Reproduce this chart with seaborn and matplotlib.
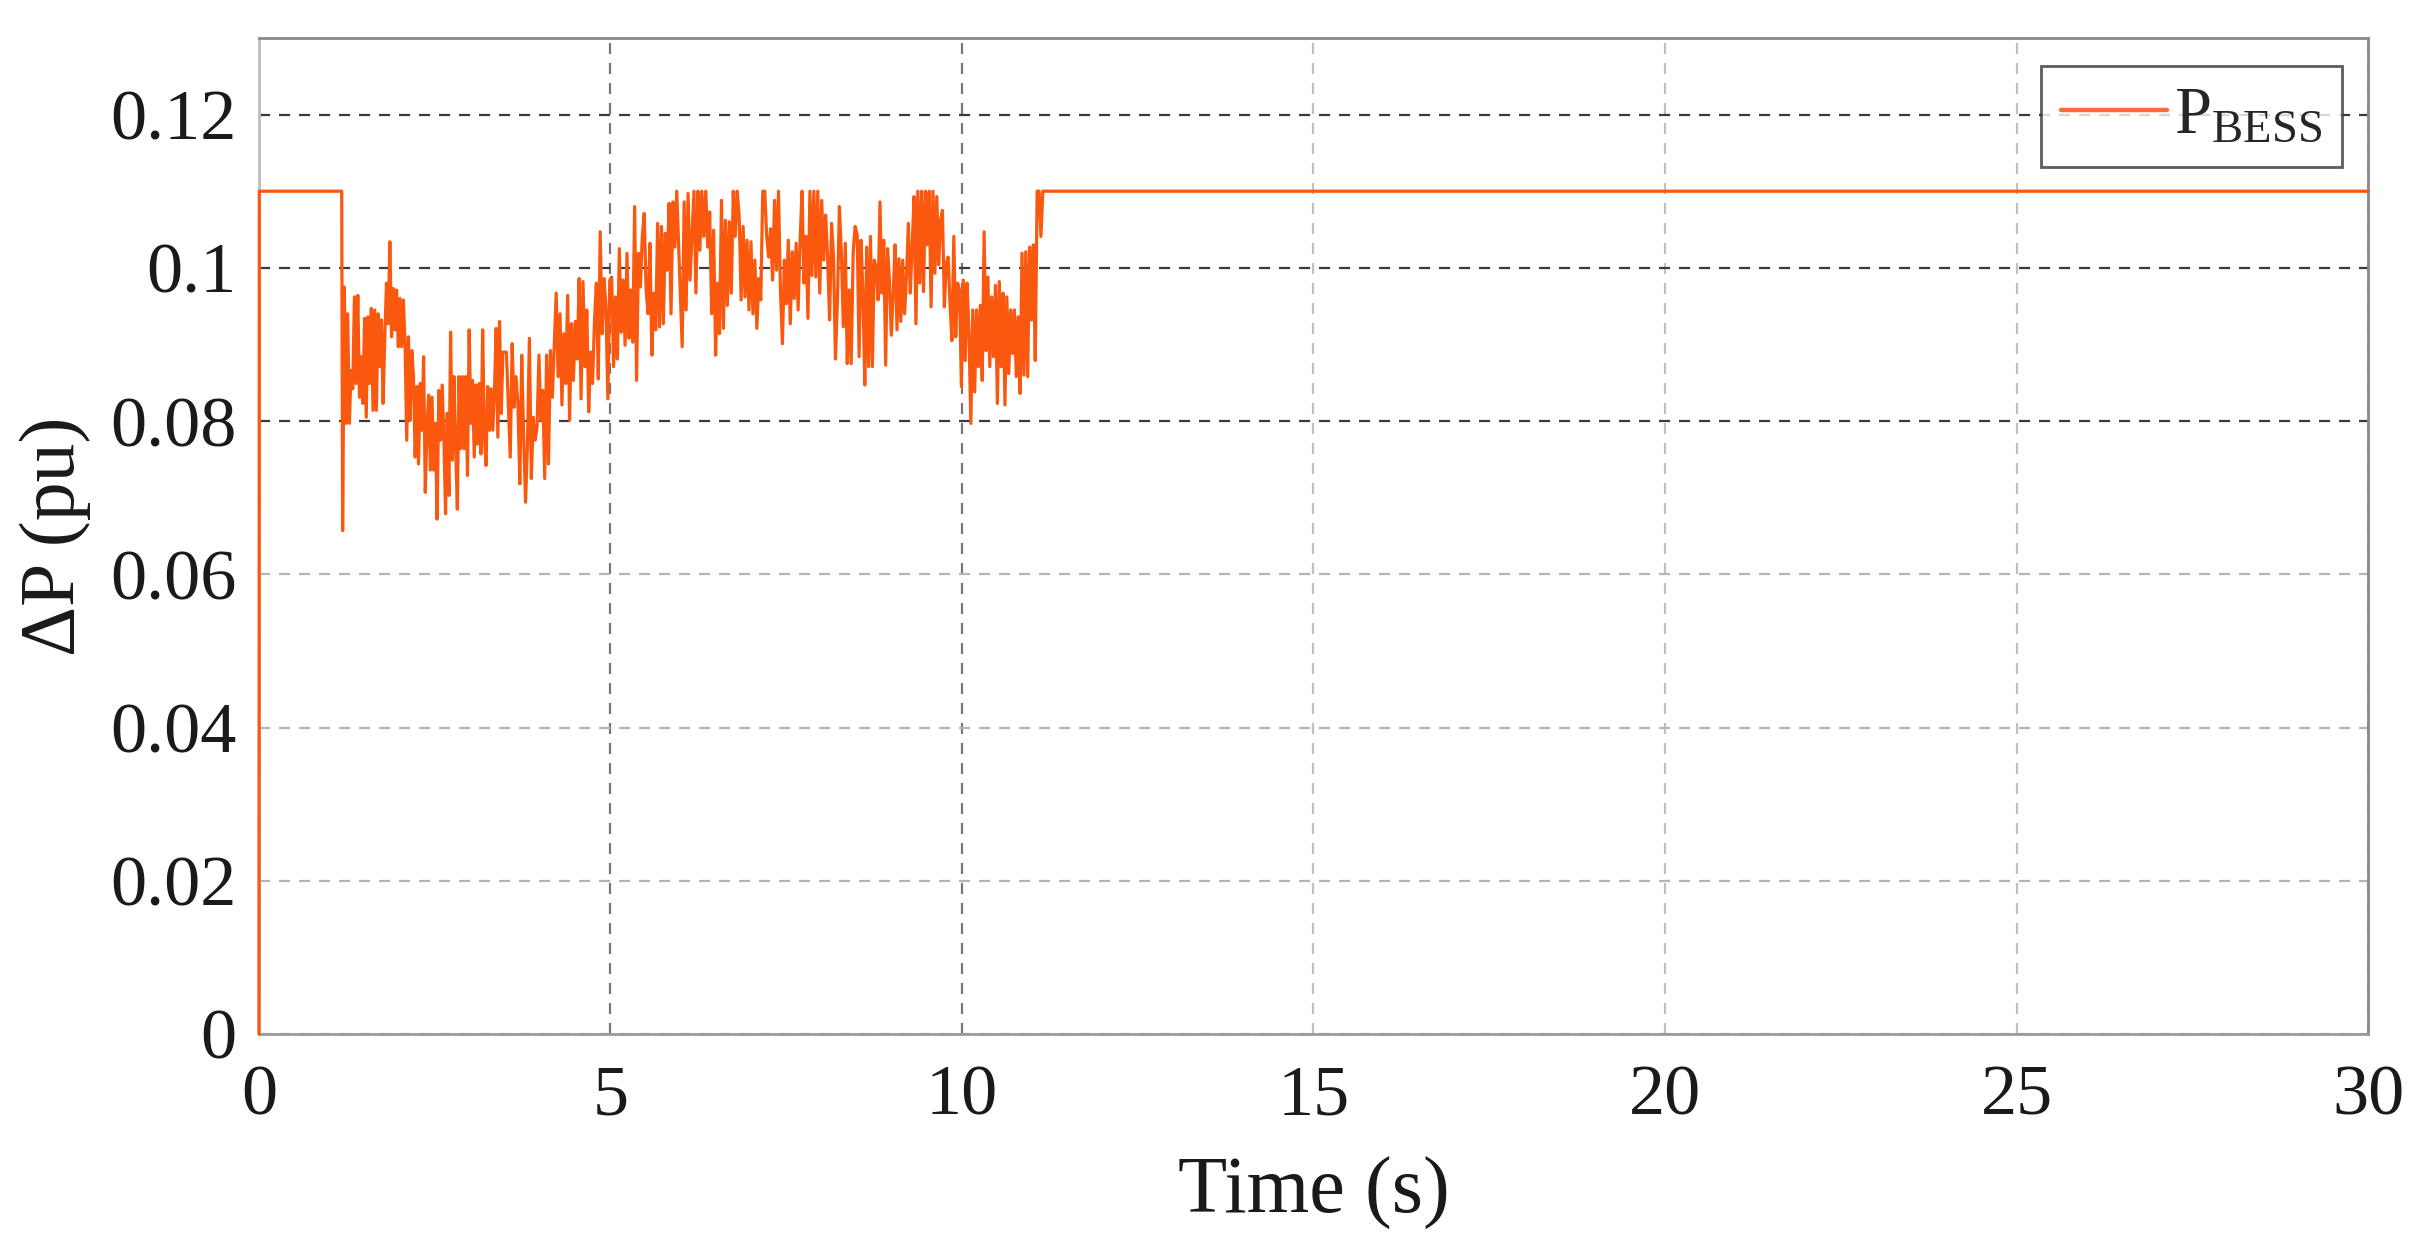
import numpy as np
import pandas as pd
import matplotlib
matplotlib.use("Agg")
import matplotlib.pyplot as plt
import seaborn as sns

# ---------------- data ----------------
# start-up: step from 0 to saturation, then flat until the disturbance
t_start = [0.0, 0.005, 1.177]
p_start = [0.0, 0.11, 0.11]

# noisy period, four consecutive stretches (values in pu)
seg1_t = (1.19, 3.47)
seg1_p = [0.0657, 0.0975, 0.0797, 0.0940, 0.0797, 0.0866, 0.0842, 0.0962, 0.0849, 0.0964,
          0.0831, 0.0884, 0.0823, 0.0934, 0.0805, 0.0936, 0.0849, 0.0947, 0.0814, 0.0945,
          0.0814, 0.0940, 0.0871, 0.0932, 0.0823, 0.0910, 0.0980, 0.0927, 0.1034, 0.0910,
          0.0973, 0.0919, 0.0971, 0.0897, 0.0960, 0.0897, 0.0958, 0.0901, 0.0775, 0.0910,
          0.0801, 0.0892, 0.0858, 0.0753, 0.0845, 0.0744, 0.0849, 0.0788, 0.0884, 0.0707,
          0.0792, 0.0834, 0.0736, 0.0831, 0.0736, 0.0797, 0.0672, 0.0840, 0.0775, 0.0847,
          0.0779, 0.0679, 0.0810, 0.0703, 0.0916, 0.0749, 0.0858, 0.0764, 0.0685, 0.0858,
          0.0764, 0.0858, 0.0764, 0.0858, 0.0729, 0.0919, 0.0797, 0.0853, 0.0753, 0.0847,
          0.0770, 0.0849, 0.0757, 0.0919, 0.0783, 0.0742, 0.0845, 0.0788, 0.0842, 0.0788,
          0.0840, 0.0921, 0.0779, 0.0930, 0.0810, 0.0890]
seg2_t = (3.52, 5.97)
seg2_p = [0.0890, 0.0823, 0.0753, 0.0901, 0.0818, 0.0858, 0.0823, 0.0718, 0.0886, 0.0779,
          0.0694, 0.0770, 0.0908, 0.0725, 0.0805, 0.0775, 0.0792, 0.0886, 0.0801, 0.0840,
          0.0725, 0.0886, 0.0744, 0.0892, 0.0831, 0.0901, 0.0967, 0.0858, 0.0940, 0.0821,
          0.0914, 0.0849, 0.0964, 0.0801, 0.0927, 0.0853, 0.0930, 0.0881, 0.0986, 0.0829,
          0.0982, 0.0871, 0.0945, 0.0812, 0.0890, 0.0849, 0.0930, 0.0980, 0.0855, 0.1047,
          0.0914, 0.0986, 0.0949, 0.0829, 0.0984, 0.0988, 0.0871, 0.0962, 0.0881, 0.1025,
          0.0916, 0.0984, 0.0899, 0.1019, 0.0908, 0.0971, 0.0903, 0.1080, 0.0853, 0.1019,
          0.0975, 0.1041, 0.1071, 0.0971, 0.0940, 0.1032, 0.0886, 0.0967, 0.0919, 0.1058,
          0.0923, 0.1054, 0.0927, 0.1045, 0.0997, 0.1084, 0.0940, 0.1086, 0.1027, 0.1100,
          0.1027]
seg3_t = (6.02, 8.48)
seg3_p = [0.0897, 0.1086, 0.0945, 0.1097, 0.0984, 0.1041, 0.1100, 0.0967, 0.1100, 0.1023,
          0.1100, 0.1041, 0.1100, 0.1027, 0.1073, 0.0940, 0.1049, 0.0886, 0.0980, 0.0914,
          0.1088, 0.0921, 0.1062, 0.0951, 0.1060, 0.0967, 0.1100, 0.1041, 0.1100, 0.1067,
          0.0958, 0.1054, 0.0962, 0.1036, 0.0945, 0.1034, 0.0940, 0.1010, 0.0921, 0.0986,
          0.0958, 0.1100, 0.1100, 0.1041, 0.1014, 0.1051, 0.0984, 0.1088, 0.0997, 0.1100,
          0.0971, 0.0901, 0.1010, 0.0953, 0.1036, 0.0927, 0.1021, 0.0960, 0.1032, 0.0945,
          0.1036, 0.1100, 0.0980, 0.1041, 0.0934, 0.1100, 0.0990, 0.1100, 0.0988, 0.1100,
          0.0967, 0.1088, 0.1010, 0.1069, 0.1014, 0.0932, 0.1058, 0.1014, 0.0881, 0.0958,
          0.1080, 0.1019, 0.0923, 0.1032, 0.0875, 0.0971, 0.0875, 0.1019, 0.1054]
seg4_t = (8.51, 11.15)
seg4_p = [0.1043, 0.0884, 0.1036, 0.0967, 0.0847, 0.1027, 0.0871, 0.1041, 0.0871, 0.1010,
          0.1001, 0.0958, 0.1086, 0.0967, 0.1036, 0.0873, 0.1025, 0.0984, 0.0912, 0.0967,
          0.1030, 0.0919, 0.1012, 0.0930, 0.1010, 0.0940, 0.0988, 0.1058, 0.0967, 0.1027,
          0.1093, 0.0927, 0.1100, 0.0980, 0.1100, 0.0969, 0.1100, 0.1030, 0.1100, 0.0949,
          0.1100, 0.0993, 0.1093, 0.1004, 0.1062, 0.1075, 0.0949, 0.1006, 0.1014, 0.0953,
          0.0905, 0.1041, 0.0910, 0.0980, 0.0971, 0.0845, 0.0984, 0.0879, 0.0980, 0.0914,
          0.0797, 0.0945, 0.0838, 0.0945, 0.0871, 0.0951, 0.0853, 0.1047, 0.0892, 0.0988,
          0.0871, 0.0962, 0.0884, 0.0977, 0.0823, 0.0982, 0.0871, 0.0967, 0.0821, 0.0962,
          0.0862, 0.0945, 0.0888, 0.0945, 0.0858, 0.0936, 0.0836, 0.1019, 0.0860, 0.1021,
          0.0858, 0.1027, 0.0932, 0.1030, 0.0879, 0.1100, 0.1100, 0.1041, 0.1100]

# after recovery: saturated until the end of the simulation
t_end = [30.0]
p_end = [0.11]

x_ticks = [0, 5, 10, 15, 20, 25, 30]
y_ticks = [0, 0.02, 0.04, 0.06, 0.08, 0.1, 0.12]
y_tick_labels = ["0", "0.02", "0.04", "0.06", "0.08", "0.1", "0.12"]
series_name = r"$\mathrm{P_{BESS}}$"

# ---------------- assemble ----------------
t_all = list(t_start)
p_all = list(p_start)
for (a, b), vals in [(seg1_t, seg1_p), (seg2_t, seg2_p), (seg3_t, seg3_p), (seg4_t, seg4_p)]:
    t_all += list(np.linspace(a, b, len(vals)))
    p_all += vals
t_all += t_end
p_all += p_end
df = pd.DataFrame({"Time": t_all, "P": p_all, "series": series_name})

# ---------------- style ----------------
sns.set_theme(style="white")
plt.rcParams["font.family"] = ["Liberation Serif", "DejaVu Serif"]
plt.rcParams["mathtext.fontset"] = "custom"
plt.rcParams["mathtext.rm"] = "Liberation Serif"
plt.rcParams["mathtext.it"] = "Liberation Serif:italic"

fig = plt.figure(figsize=(24.27, 12.53), dpi=100)
ax = fig.add_axes([0.1067, 0.1748, 0.8690, 0.7949])

line_color = "#FA580F"
sns.lineplot(data=df, x="Time", y="P", hue="series", palette=[line_color],
             estimator=None, sort=False, linewidth=2.3, ax=ax)
for ln in ax.get_lines():
    ln.set_zorder(3)
    ln.set_clip_on(False)

ax.set_xlim(0, 30)
ax.set_ylim(0, 0.13)
ax.set_xticks(x_ticks)
ax.set_xticklabels([str(v) for v in x_ticks])
ax.set_yticks(y_ticks)
ax.set_yticklabels(y_tick_labels)

ax.grid(True, linestyle=(0, (5, 4)), linewidth=1.6)
for gl, val in zip(ax.yaxis.get_gridlines(), y_ticks):
    gl.set_color("#3a3a3a" if val >= 0.08 else "#b5b5b5")
for gl, val in zip(ax.xaxis.get_gridlines(), x_ticks):
    gl.set_color("#777777" if val in (5, 10) else "#c0c0c0")

ax.tick_params(axis="both", which="major", direction="in", length=8, width=1.5,
               color="#444444", labelsize=52, labelcolor="#1a1a1a")
ax.tick_params(axis="y", pad=16)
ax.tick_params(axis="x", pad=22)

for side, col in [("left", "#bdbdbd"), ("bottom", "#9a9a9a"),
                  ("top", "#8a8a8a"), ("right", "#8a8a8a")]:
    ax.spines[side].set_visible(True)
    ax.spines[side].set_color(col)
    ax.spines[side].set_linewidth(2)
    ax.spines[side].set_zorder(2.5)

ax.set_xlabel("Time (s)", fontsize=58, color="#1a1a1a", labelpad=20)
ax.set_ylabel("\u0394P (pu)", fontsize=56, color="#1a1a1a", labelpad=14)

leg = ax.legend(loc="upper right", bbox_to_anchor=(0.9877, 0.972), borderaxespad=0.0,
                fontsize=48, frameon=True, fancybox=False,
                handlelength=1.6, handletextpad=0.1, borderpad=0.3, title=None)
leg.get_frame().set_edgecolor("#333333")
leg.get_frame().set_linewidth(2)
for h in leg.get_lines():
    h.set_linewidth(3.2)
    h.set_color("#FF6A38")

fig.savefig("out.png", dpi=100)
